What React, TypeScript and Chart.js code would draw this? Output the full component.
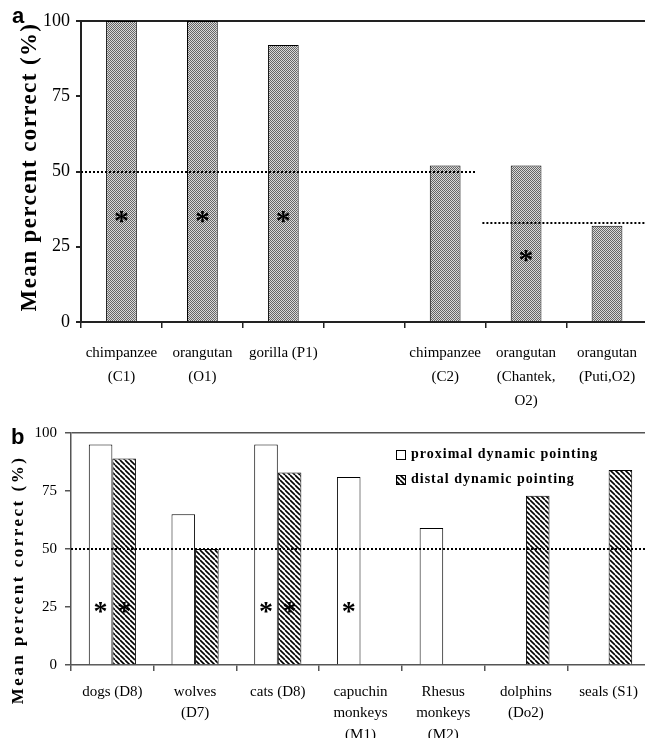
import React, { useEffect, useRef } from 'react';
import { Chart, registerables } from 'chart.js';

Chart.register(...registerables);

const SERIF = '"Liberation Serif", "Times New Roman", serif';
const Y_TITLE = 'Mean percent correct (%)';

// ---- Panel a ----
const labelsA = [
  ['chimpanzee', '(C1)'],
  ['orangutan', '(O1)'],
  ['gorilla (P1)'],
  [''],
  ['chimpanzee', '(C2)'],
  ['orangutan', '(Chantek,', 'O2)'],
  ['orangutan', '(Puti,O2)'],
];
const valuesA = [100, 100, 92, null, 52, 52, 32];
const starsA = [35, 35, 35, null, null, 22, null];
// chance lines: level, start and end (in category units)
const chanceValuesA = [50, 33];
const chanceFromA = [-0.5, 4.46];
const chanceToA = [4.37, 6.6];

// ---- Panel b ----
const labelsB = [
  ['dogs (D8)'],
  ['wolves', '(D7)'],
  ['cats (D8)'],
  ['capuchin', 'monkeys', '(M1)'],
  ['Rhesus', 'monkeys', '(M2)'],
  ['dolphins', '(Do2)'],
  ['seals (S1)'],
];
const seriesNamesB = ['proximal dynamic pointing', 'distal dynamic pointing'];
const proximalB = [95, 65, 95, 81, 59, null, null];
const distalB = [89, 50, 83, null, null, 73, 84];
const starsProximalB = [25, null, 25, 25, null, null, null];
const starsDistalB = [25, null, 25, null, null, null, null];
const chanceValuesB = [50];
const chanceFromB = [-0.5];
const chanceToB = [6.6];

function makeStipple() {
  const c = document.createElement('canvas');
  c.width = 2;
  c.height = 2;
  const g = c.getContext('2d')!;
  g.fillStyle = '#dadada';
  g.fillRect(0, 0, 2, 2);
  g.fillStyle = '#666';
  g.fillRect(0, 0, 1, 1);
  g.fillRect(1, 1, 1, 1);
  return g.createPattern(c, 'repeat')!;
}

function makeHatch() {
  const s = 5;
  const c = document.createElement('canvas');
  c.width = s;
  c.height = s;
  const g = c.getContext('2d')!;
  g.fillStyle = '#fff';
  g.fillRect(0, 0, s, s);
  g.strokeStyle = '#000';
  g.lineWidth = 1.6;
  g.beginPath();
  for (const k of [-s, 0, s]) {
    g.moveTo(k, 0);
    g.lineTo(k + s, s);
  }
  g.stroke();
  return g.createPattern(c, 'repeat')!;
}

// dotted chance lines drawn through the chart's own x (category) and y scales
function chancePlugin(values: number[], from: number[], to: number[]) {
  return {
    id: 'chance',
    afterDatasetsDraw(chart: any) {
      const ctx = chart.ctx as CanvasRenderingContext2D;
      const xs = chart.scales.x;
      const ys = chart.scales.y;
      const area = chart.chartArea;
      ctx.save();
      ctx.beginPath();
      ctx.rect(area.left, area.top - 2, area.right - area.left + 20, area.bottom - area.top + 4);
      ctx.clip();
      ctx.strokeStyle = '#000';
      ctx.lineWidth = 2;
      ctx.setLineDash([2, 2]);
      values.forEach((v, i) => {
        const y = Math.round(ys.getPixelForValue(v));
        ctx.beginPath();
        ctx.moveTo(xs.getPixelForValue(from[i]), y);
        ctx.lineTo(xs.getPixelForValue(to[i]), y);
        ctx.stroke();
      });
      ctx.restore();
    },
  };
}

function starsPlugin(sets: { ds: number; values: (number | null)[] }[], size: number) {
  return {
    id: 'stars',
    afterDatasetsDraw(chart: any) {
      const ctx = chart.ctx as CanvasRenderingContext2D;
      const ys = chart.scales.y;
      ctx.save();
      ctx.font = `bold ${size}px ${SERIF}`;
      ctx.fillStyle = '#000';
      ctx.textAlign = 'center';
      ctx.textBaseline = 'alphabetic';
      const m = ctx.measureText('*');
      const off = (m.actualBoundingBoxAscent - m.actualBoundingBoxDescent) / 2;
      sets.forEach(({ ds, values }) => {
        const meta = chart.getDatasetMeta(ds);
        values.forEach((v, i) => {
          if (v == null) return;
          const el: any = meta.data[i];
          if (!el) return;
          ctx.fillText('*', el.x, ys.getPixelForValue(v) + off);
        });
      });
      ctx.restore();
    },
  };
}

function yTitlePlugin(size: number, spacing: number, cx: number, cy: number) {
  return {
    id: 'ytitle',
    afterDraw(chart: any) {
      const ctx = chart.ctx as CanvasRenderingContext2D;
      ctx.save();
      ctx.translate(cx, cy);
      ctx.rotate(-Math.PI / 2);
      ctx.font = `bold ${size}px ${SERIF}`;
      (ctx as any).letterSpacing = `${spacing}px`;
      ctx.textAlign = 'center';
      ctx.textBaseline = 'middle';
      ctx.fillStyle = '#000';
      ctx.fillText(Y_TITLE, 0, 0);
      ctx.restore();
    },
  };
}

const legendPluginB = {
  id: 'customLegend',
  afterDraw(chart: any) {
    const ctx = chart.ctx as CanvasRenderingContext2D;
    const items = chart.data.datasets;
    ctx.save();
    items.forEach((d: any, i: number) => {
      const y = 40 + i * 25;
      ctx.fillStyle = d.backgroundColor;
      ctx.fillRect(396, y - 5, 10, 10);
      ctx.strokeStyle = '#000';
      ctx.lineWidth = 1;
      ctx.strokeRect(396.5, y - 4.5, 9, 9);
      ctx.fillStyle = '#000';
      ctx.font = `bold 14px ${SERIF}`;
      (ctx as any).letterSpacing = '1px';
      ctx.textAlign = 'left';
      ctx.textBaseline = 'middle';
      ctx.fillText(d.label, 411, y - 1);
    });
    ctx.restore();
  },
};

export default function App() {
  const refA = useRef<HTMLCanvasElement>(null);
  const refB = useRef<HTMLCanvasElement>(null);

  useEffect(() => {
    const stipple = makeStipple();
    const hatch = makeHatch();
    const axisColor = '#222';

    const chartA = new Chart(refA.current!, {
      type: 'bar',
      data: {
        labels: labelsA,
        datasets: [
          {
            label: 'a',
            data: valuesA,
            backgroundColor: stipple,
            borderColor: '#000',
            borderWidth: 1,
            categoryPercentage: 1,
            barPercentage: 0.38,
          } as any,
        ],
      },
      options: {
        responsive: false,
        animation: false,
        layout: { padding: { top: 21, left: 0, right: 0, bottom: 0 } },
        plugins: { legend: { display: false }, tooltip: { enabled: false } },
        scales: {
          x: {
            type: 'category',
            offset: true,
            grid: { offset: true, drawOnChartArea: false, tickLength: 6, color: axisColor, lineWidth: 1.5 },
            border: { color: axisColor, width: 2 },
            ticks: {
              font: { family: SERIF, size: 15, lineHeight: 1.6 },
              color: '#000',
              padding: 13,
              maxRotation: 0,
              autoSkip: false,
            },
            afterFit: (s: any) => {
              s.height = 93;
            },
          },
          y: {
            min: 0,
            max: 100,
            ticks: { stepSize: 25, font: { family: SERIF, size: 18 }, color: '#000', padding: 6 },
            grid: {
              color: (c: any) => (c.tick && c.tick.value === 100 ? axisColor : 'rgba(0,0,0,0)'),
              tickColor: axisColor,
              tickLength: 5,
              lineWidth: 2,
            },
            border: { color: axisColor, width: 2 },
            afterFit: (s: any) => {
              s.width = 81;
            },
          },
        },
      } as any,
      plugins: [
        chancePlugin(chanceValuesA, chanceFromA, chanceToA),
        starsPlugin([{ ds: 0, values: starsA }], 30),
        yTitlePlugin(23, 1.4, 30, 167),
      ],
    });

    const chartB = new Chart(refB.current!, {
      type: 'bar',
      data: {
        labels: labelsB,
        datasets: [
          {
            label: seriesNamesB[0],
            data: proximalB,
            backgroundColor: '#fff',
            borderColor: '#000',
            borderWidth: 1,
            categoryPercentage: 0.57,
            barPercentage: 1,
          } as any,
          {
            label: seriesNamesB[1],
            data: distalB,
            backgroundColor: hatch,
            borderColor: '#000',
            borderWidth: 1,
            categoryPercentage: 0.57,
            barPercentage: 1,
          } as any,
        ],
      },
      options: {
        responsive: false,
        animation: false,
        layout: { padding: { top: 18, left: 0, right: 0, bottom: 0 } },
        plugins: { legend: { display: false }, tooltip: { enabled: false } },
        scales: {
          x: {
            type: 'category',
            offset: true,
            grid: { offset: true, drawOnChartArea: false, tickLength: 6, color: '#555', lineWidth: 1.5 },
            border: { color: '#555', width: 1.5 },
            ticks: {
              font: { family: SERIF, size: 15, lineHeight: 1.43 },
              color: '#000',
              padding: 10,
              maxRotation: 0,
              autoSkip: false,
            },
            afterFit: (s: any) => {
              s.height = 73;
            },
          },
          y: {
            min: 0,
            max: 100,
            ticks: { stepSize: 25, font: { family: SERIF, size: 15 }, color: '#000', padding: 8 },
            grid: {
              color: (c: any) => (c.tick && c.tick.value === 100 ? '#555' : 'rgba(0,0,0,0)'),
              tickColor: '#555',
              tickLength: 6,
              lineWidth: 1.5,
            },
            border: { color: '#555', width: 1.5 },
            afterFit: (s: any) => {
              s.width = 71;
            },
          },
        },
      } as any,
      plugins: [
        chancePlugin(chanceValuesB, chanceFromB, chanceToB),
        starsPlugin(
          [
            { ds: 0, values: starsProximalB },
            { ds: 1, values: starsDistalB },
          ],
          28
        ),
        yTitlePlugin(17, 2.5, 19, 165),
        legendPluginB,
      ],
    });

    return () => {
      chartA.destroy();
      chartB.destroy();
    };
  }, []);

  const letterStyle: React.CSSProperties = {
    position: 'absolute',
    font: 'bold 22px "Liberation Sans", Arial, sans-serif',
    lineHeight: '22px',
    color: '#000',
  };

  return (
    <div
      style={{
        position: 'absolute',
        left: 0,
        top: 0,
        width: 645,
        height: 738,
        overflow: 'hidden',
        background: '#fff',
      }}
    >
      <canvas ref={refA} width={650} height={415} style={{ position: 'absolute', left: 0, top: 0 }} />
      <canvas ref={refB} width={650} height={323} style={{ position: 'absolute', left: 0, top: 415 }} />
      <div style={{ ...letterStyle, left: 12, top: 5 }}>a</div>
      <div style={{ ...letterStyle, left: 11, top: 426 }}>b</div>
    </div>
  );
}
